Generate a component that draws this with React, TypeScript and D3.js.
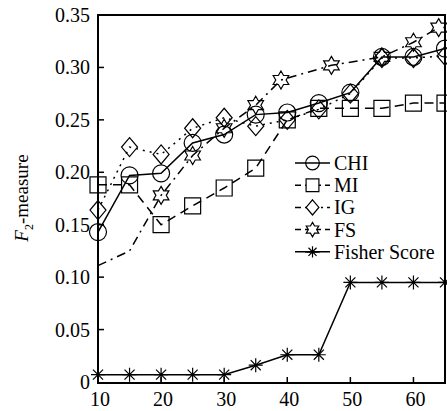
import React from "react";
import * as d3 from "d3";

const X_VALUES = [10, 15, 20, 25, 30, 35, 40, 45, 50, 55, 60, 65];
const CHI = [0.143, 0.197, 0.199, 0.228, 0.236, 0.255, 0.257, 0.266, 0.276, 0.31, 0.31, 0.318];
const MI = [0.188, 0.188, 0.15, 0.168, 0.185, 0.204, 0.25, 0.261, 0.261, 0.261, 0.266, 0.266];
const IG = [0.164, 0.224, 0.217, 0.242, 0.252, 0.244, 0.25, 0.26, 0.275, 0.309, 0.309, 0.311];
const FS_X = [10, 15, 20, 25, 30, 35, 39, 47, 55, 60, 64];
const FS = [0.111, 0.125, 0.178, 0.216, 0.242, 0.264, 0.288, 0.302, 0.31, 0.324, 0.338];
const FISHER = [0.007, 0.007, 0.007, 0.007, 0.007, 0.016, 0.026, 0.026, 0.095, 0.095, 0.095, 0.095];

const X_TICKS = [10, 20, 30, 40, 50, 60];
const Y_TICKS = [0, 0.05, 0.1, 0.15, 0.2, 0.25, 0.3, 0.35];
const Y_TICK_LABELS = ["0", "0.05", "0.10", "0.15", "0.20", "0.25", "0.30", "0.35"];
const LEGEND = ["CHI", "MI", "IG", "FS", "Fisher Score"];

const W = 447;
const H = 411;
const L = 98, R = 445, T = 15, B = 383;
const FONT = "'Liberation Serif', 'Times New Roman', serif";

type Marker = "circle" | "square" | "diamond" | "star" | "asterisk";

function markerPath(type: Marker, s: number): string {
  if (type === "circle") {
    const r = 8.5 * s;
    return `M${-r},0A${r},${r} 0 1,0 ${r},0A${r},${r} 0 1,0 ${-r},0Z`;
  }
  if (type === "square") {
    const h = 8 * s;
    return `M${-h},${-h}L${h},${-h}L${h},${h}L${-h},${h}Z`;
  }
  if (type === "diamond") {
    const w = 8 * s, hh = 9.5 * s;
    return `M0,${-hh}L${w},0L0,${hh}L${-w},0Z`;
  }
  if (type === "star") {
    const Ro = 9 * s, ri = Ro / Math.sqrt(3);
    const pts: string[] = [];
    for (let k = 0; k < 12; k++) {
      const a = (-90 + k * 30) * Math.PI / 180;
      const rr = k % 2 === 0 ? Ro : ri;
      pts.push(`${(rr * Math.cos(a)).toFixed(2)},${(rr * Math.sin(a)).toFixed(2)}`);
    }
    return "M" + pts.join("L") + "Z";
  }
  const r = 7 * s, d = r * 0.72;
  return `M${-r},0L${r},0M0,${-r}L0,${r}M${-d},${-d}L${d},${d}M${-d},${d}L${d},${-d}`;
}

export default function App() {
  const x = d3.scaleLinear().domain([10, 65]).range([L, R]);
  const y = d3.scaleLinear().domain([0, 0.35]).range([B - 1, T]);

  const series = [
    { name: LEGEND[0], xs: X_VALUES, ys: CHI, marker: "circle" as Marker, dash: "none", legendDash: "none", from: 0 },
    { name: LEGEND[1], xs: X_VALUES, ys: MI, marker: "square" as Marker, dash: "9,6", legendDash: "6,4", from: 0 },
    { name: LEGEND[2], xs: X_VALUES, ys: IG, marker: "diamond" as Marker, dash: "2,5", legendDash: "6,4,2,4", from: 0 },
    { name: LEGEND[3], xs: FS_X, ys: FS, marker: "star" as Marker, dash: "9,5,2,5", legendDash: "6,4", from: 2 },
    { name: LEGEND[4], xs: X_VALUES, ys: FISHER, marker: "asterisk" as Marker, dash: "none", legendDash: "none", from: 0 },
  ];

  const line = d3.line<[number, number]>().x((d) => x(d[0])).y((d) => y(d[1]));

  return (
    <svg width={W} height={H} style={{ position: "absolute", left: 0, top: 0, background: "#fff" }}>
      <rect width={W} height={H} fill="#fff" />
      {series.map((s) => {
        const pts = s.xs.map((v, i) => [v, s.ys[i]] as [number, number]);
        return (
          <g key={s.name}>
            <path d={line(pts) || ""} fill="none" stroke="#000" strokeWidth={1.5}
              strokeDasharray={s.dash === "none" ? undefined : s.dash} />
            {pts.slice(s.from).map((p, i) => (
              <path key={i} d={markerPath(s.marker, 1)} transform={`translate(${x(p[0])},${y(p[1])})`}
                fill="none" stroke="#000" strokeWidth={1.2} />
            ))}
          </g>
        );
      })}
      <rect x={L} y={T} width={R - L} height={B - T} fill="none" stroke="#000" strokeWidth={2} />
      {Y_TICKS.map((t, i) => (
        <g key={"y" + i}>
          {i > 0 && i < Y_TICKS.length - 1 && (
            <line x1={L} x2={L + 6} y1={y(t)} y2={y(t)} stroke="#000" strokeWidth={1.5} />
          )}
          <text x={90} y={y(t)} dy="0.35em" textAnchor="end" fontFamily={FONT} fontSize={20} fill="#000">
            {Y_TICK_LABELS[i]}
          </text>
        </g>
      ))}
      {X_TICKS.map((t, i) => (
        <g key={"x" + i}>
          {i > 0 && <line x1={x(t)} x2={x(t)} y1={B} y2={B - 6} stroke="#000" strokeWidth={1.5} />}
          <text x={x(t) + 2} y={406} textAnchor="middle" fontFamily={FONT} fontSize={20} fill="#000">
            {t}
          </text>
        </g>
      ))}
      <text transform="translate(28,198) rotate(-90)" textAnchor="middle" fontFamily={FONT} fontSize={19} fill="#000">
        <tspan fontStyle="italic">F</tspan>
        <tspan fontSize={12} dy={5}>2</tspan>
        <tspan dy={-5}>-measure</tspan>
      </text>
      {series.map((s, i) => {
        const ly = 163 + i * 22.2;
        return (
          <g key={"lg" + i}>
            <line x1={295} x2={330} y1={ly} y2={ly} stroke="#000" strokeWidth={1.5}
              strokeDasharray={s.legendDash === "none" ? undefined : s.legendDash} />
            <path d={markerPath(s.marker, 0.8)} transform={`translate(312.5,${ly})`} fill="#fff" stroke="#000" strokeWidth={1.2} />
            {(s.marker === "circle" || s.marker === "asterisk") && (
              <line x1={305} x2={320} y1={ly} y2={ly} stroke="#000" strokeWidth={1.5} />
            )}
            <text x={334} y={ly} dy="0.35em" fontFamily={FONT} fontSize={20} fill="#000">{s.name}</text>
          </g>
        );
      })}
    </svg>
  );
}
